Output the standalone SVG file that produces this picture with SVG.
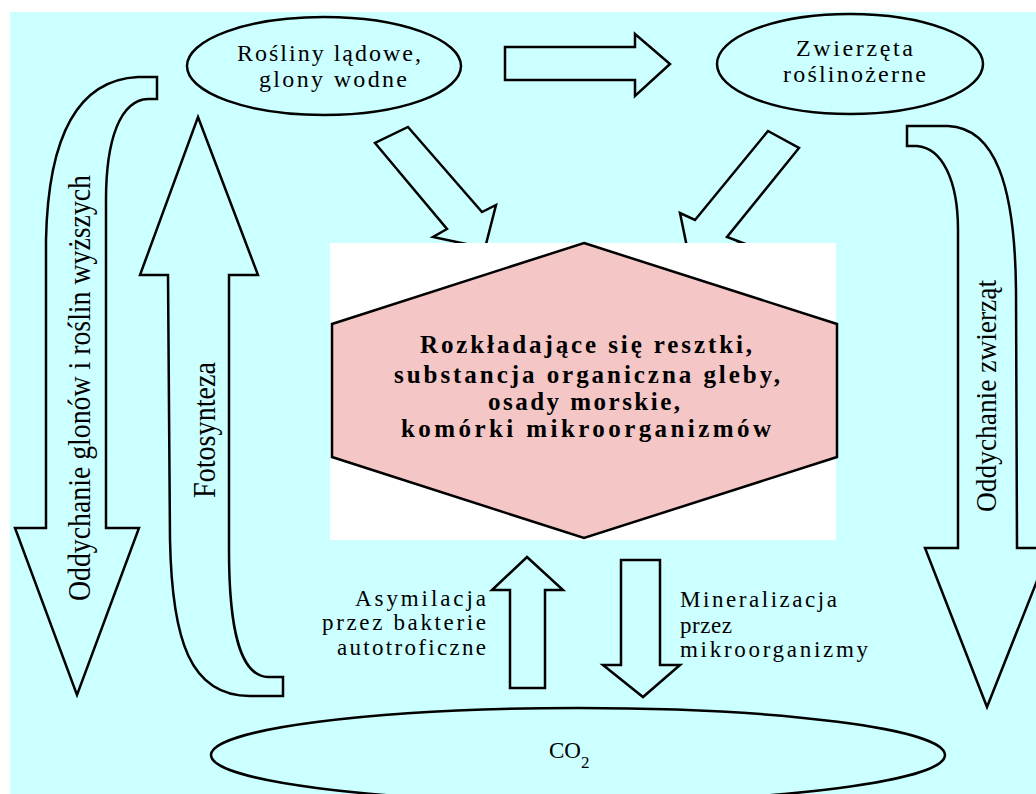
<svg xmlns="http://www.w3.org/2000/svg" width="1036" height="794" viewBox="0 0 1036 794">
<style>
.shape{fill:#CCFFFF;stroke:#000;stroke-width:2.5;stroke-linejoin:miter}
.t{font-family:"Liberation Serif","Times New Roman",serif;fill:#000}
.b{font-weight:bold}
</style>
<rect x="0" y="0" width="1036" height="794" fill="#FFFFFF"/>
<rect x="10" y="12" width="1026" height="782" fill="#CCFFFF"/>
<g id="connectors">
  <path id="arrow-top" class="shape" d="M505,47 L635,47 L635,34 L670,64 L635,96 L635,80 L505,80 Z"/>
  <path id="arrow-diag-left" class="shape" d="M408,127 L482,212 L496,205 L485,248 L433,237 L447,229 L375,143 Z"/>
  <path id="arrow-diag-right" class="shape" d="M768,131 L799,148 L727,237 L743,243 L688,252 L680,213 L695,220 Z"/>
  <path id="arrow-resp-plants" class="shape" d="M157,77 L138,77 C75,80 48,140 46,240 L46,528 L15,528 L77,695 L139,528 L106,528 L106,200 C106,140 120,100 148,99 L157,99 Z"/>
  <path id="arrow-photo" class="shape" d="M198,117 L258,275 L229,275 L229,550 C229,630 240,676 268,677 L283,677 L283,696 L250,696 C190,696 172,640 170,540 L168,275 L140,275 Z"/>
  <path id="arrow-resp-animals" class="shape" d="M907,126 L948,126 C995,128 1015,185 1016,290 L1017,548 L1050,548 L987,707 L925,548 L958,548 L958,230 C958,180 942,148 917,146 L907,146 Z"/>
  <path id="arrow-up" class="shape" d="M527,557 L563,590 L545,590 L545,688 L510,688 L510,590 L492,590 Z"/>
  <path id="arrow-down" class="shape" d="M621,560 L660,560 L660,665 L680,665 L643,697 L603,665 L621,665 Z"/>
  <text class="t" transform="translate(90,388) rotate(-90)" text-anchor="middle" font-size="31" textLength="426" lengthAdjust="spacingAndGlyphs">Oddychanie glonów i roślin wyższych</text>
  <text class="t" transform="translate(215,430) rotate(-90)" text-anchor="middle" font-size="31" textLength="136" lengthAdjust="spacingAndGlyphs">Fotosynteza</text>
  <text class="t" transform="translate(996,396) rotate(-90)" text-anchor="middle" font-size="30" textLength="232" lengthAdjust="spacingAndGlyphs">Oddychanie zwierząt</text>
  <g class="t" font-size="23" text-anchor="end">
    <text x="486" y="606" textLength="131">Asymilacja</text>
    <text x="486" y="630" textLength="164">przez bakterie</text>
    <text x="486" y="655" textLength="149">autotroficzne</text>
  </g>
  <g class="t" font-size="23">
    <text x="680" y="607" textLength="157">Mineralizacja</text>
    <text x="680" y="633" textLength="52">przez</text>
    <text x="680" y="657" textLength="188">mikroorganizmy</text>
  </g>
</g>
<g id="node-plants">
  <ellipse class="shape" cx="324" cy="66" rx="137" ry="49"/>
  <text class="t" x="237" y="61" font-size="24" textLength="184">Rośliny lądowe,</text>
  <text class="t" x="259" y="87" font-size="24" textLength="148">glony wodne</text>
</g>
<g id="node-animals">
  <ellipse class="shape" cx="850" cy="64" rx="133" ry="50"/>
  <text class="t" x="796" y="56" font-size="24" textLength="117">Zwierzęta</text>
  <text class="t" x="783" y="82" font-size="24" textLength="143">roślinożerne</text>
</g>
<g id="node-organic">
  <rect x="330" y="243" width="506" height="297" fill="#FFFFFF"/>
  <polygon points="584,243 837,324 837,457 584,538 332,457 332,324" fill="#F4C6C6" stroke="#000" stroke-width="2.5"/>
  <g class="t b" font-size="25">
    <text x="420" y="353" textLength="332">Rozkładające się resztki,</text>
    <text x="394" y="383" textLength="386">substancja organiczna gleby,</text>
    <text x="488" y="410" textLength="192">osady morskie,</text>
    <text x="401" y="437" textLength="370">komórki mikroorganizmów</text>
  </g>
</g>
<g id="node-co2">
  <ellipse class="shape" cx="578" cy="755" rx="367" ry="47"/>
  <text class="t" x="549" y="758" font-size="23">CO<tspan dy="10" font-size="17">2</tspan></text>
</g>
</svg>
